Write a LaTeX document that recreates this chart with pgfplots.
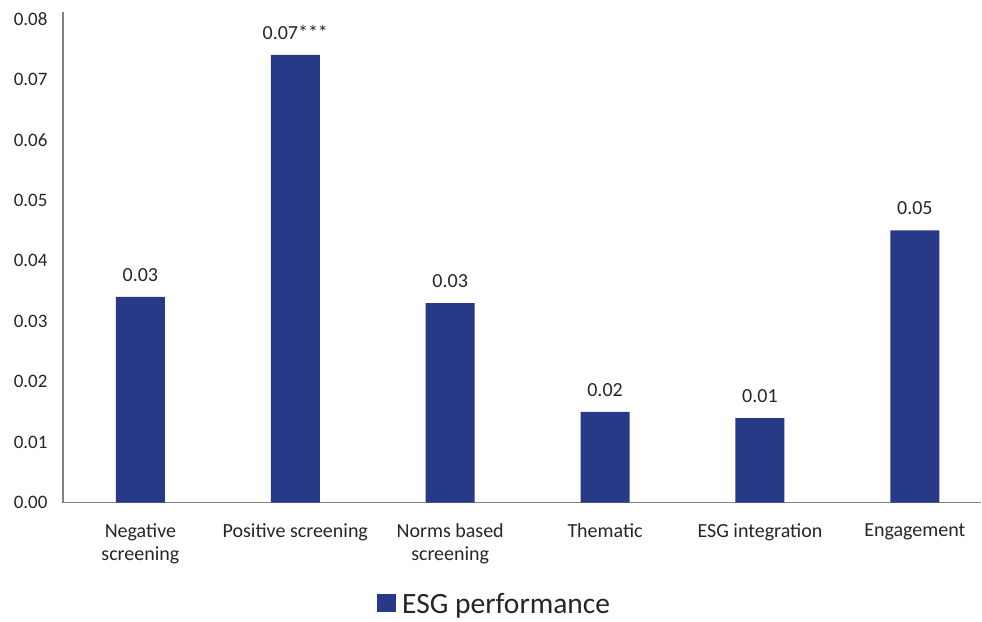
\documentclass[border=0pt]{standalone}
\usepackage{pgfplots}
\pgfplotsset{compat=1.18}
\usepackage{fontspec}
\setmainfont{Carlito}
\definecolor{barblue}{RGB}{40,58,135}
\definecolor{txt}{RGB}{38,38,38}
\definecolor{axisgray}{RGB}{130,130,130}
\begin{document}
\begin{tikzpicture}
\begin{axis}[
  scale only axis,
  width=919pt, height=491pt,
  xmin=-0.5, xmax=5.43,
  ymin=0, ymax=0.0811,
  axis x line*=bottom, axis y line*=left,
  axis line style={axisgray, line width=1.1pt},
  x axis line style={-}, y axis line style={-},
  xtick=data,
  xticklabels={Negative\\screening, Positive screening, Norms based\\screening, Thematic, ESG integration, Engagement},
  xticklabel style={align=center, font=\fontsize{20}{23}\selectfont, text=txt, yshift=-17pt},
  ytick={0,0.01,0.02,0.03,0.04,0.05,0.06,0.07,0.08},
  yticklabel style={font=\fontsize{19}{22}\selectfont, text=txt, xshift=-12pt, /pgf/number format/.cd, fixed, fixed zerofill, precision=2},
  /pgf/number format/assume math mode=true,
  scaled y ticks=false,
  major tick length=0pt,
  ybar, bar width=49pt,
  point meta=explicit symbolic,
  nodes near coords,
  nodes near coords style={font=\fontsize{20}{23}\selectfont, text=txt, yshift=12pt},
  legend style={at={(axis description cs:0.47,-0.206)}, anchor=center, draw=none,
    font=\fontsize{29.5}{32}\selectfont, text=txt, column sep=4pt, inner sep=1pt},
  legend image code/.code={\fill[barblue] (-4pt,-8pt) rectangle (15pt,10pt);},
]
\addplot[fill=barblue, draw=none] coordinates {
  (0,0.034) [0.03]
  (1,0.074) [0.07***]
  (2,0.033) [0.03]
  (3,0.015) [0.02]
  (4,0.014) [0.01]
  (5,0.045) [0.05]
};
\addlegendentry{ESG performance}
\coordinate (boxsw) at (rel axis cs:0,0);
\end{axis}
% page frame around the plot area
\path (boxsw) ++(-63pt,-119pt) rectangle ++(982pt,622pt);
\end{tikzpicture}
\end{document}
